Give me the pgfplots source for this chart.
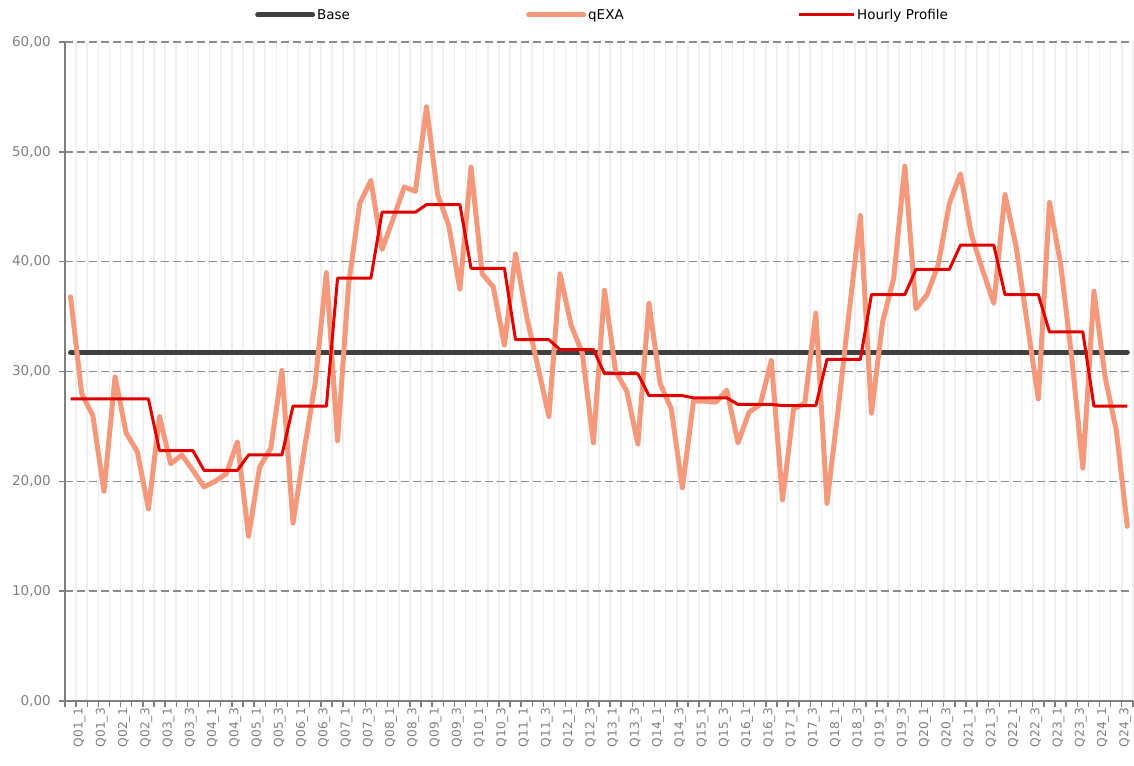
\documentclass[border=0pt]{standalone}
\usepackage{pgfplots}
\pgfplotsset{compat=1.18}
\usepackage{pgfplotstable}
\usepackage{fontspec}
\setmainfont{DejaVu Sans}
\definecolor{qexa}{HTML}{F4997B}
\definecolor{hourly}{HTML}{E00000}
\definecolor{base}{HTML}{404040}
\definecolor{gridc}{HTML}{8C8C8C}
\definecolor{vgrid}{HTML}{EFEFEF}
\definecolor{tickc}{HTML}{7F7F7F}
\pgfplotstableread{
x q h
0 36.8 27.5
1 28.0 27.5
2 26.0 27.5
3 19.1 27.5
4 29.5 27.5
5 24.4 27.5
6 22.7 27.5
7 17.5 27.5
8 25.9 22.8
9 21.6 22.8
10 22.4 22.8
11 21.0 22.8
12 19.5 21.0
13 20.0 21.0
14 20.7 21.0
15 23.6 21.0
16 15.0 22.4
17 21.3 22.4
18 23.0 22.4
19 30.1 22.4
20 16.2 26.85
21 22.8 26.85
22 29.0 26.85
23 39.0 26.85
24 23.7 38.5
25 38.0 38.5
26 45.3 38.5
27 47.4 38.5
28 41.1 44.5
29 43.9 44.5
30 46.8 44.5
31 46.4 44.5
32 54.1 45.2
33 46.1 45.2
34 43.3 45.2
35 37.5 45.2
36 48.6 39.4
37 38.9 39.4
38 37.7 39.4
39 32.4 39.4
40 40.7 32.9
41 35.0 32.9
42 30.5 32.9
43 25.9 32.9
44 38.9 32.0
45 34.2 32.0
46 31.7 32.0
47 23.5 32.0
48 37.4 29.8
49 30.0 29.8
50 28.2 29.8
51 23.4 29.8
52 36.2 27.8
53 28.9 27.8
54 26.6 27.8
55 19.4 27.8
56 27.3 27.6
57 27.3 27.6
58 27.2 27.6
59 28.3 27.6
60 23.5 27.0
61 26.3 27.0
62 27.0 27.0
63 31.0 27.0
64 18.3 26.9
65 26.6 26.9
66 27.1 26.9
67 35.3 26.9
68 18.0 31.1
69 26.5 31.1
70 35.5 31.1
71 44.2 31.1
72 26.2 37.0
73 34.5 37.0
74 38.5 37.0
75 48.7 37.0
76 35.7 39.3
77 37.0 39.3
78 39.7 39.3
79 45.3 39.3
80 48.0 41.5
81 42.4 41.5
82 39.2 41.5
83 36.2 41.5
84 46.1 37.0
85 41.4 37.0
86 34.4 37.0
87 27.5 37.0
88 45.4 33.6
89 39.8 33.6
90 31.3 33.6
91 21.2 33.6
92 37.3 26.85
93 29.5 26.85
94 24.7 26.85
95 15.9 26.85
}\datatable
\begin{document}
\begin{tikzpicture}
\path[use as bounding box] (-65pt,-64pt) rectangle (1069pt,701pt);
\begin{axis}[
  at={(0pt,0pt)}, anchor=south west,
  scale only axis, width=1068pt, height=659pt,
  xmin=-0.5, xmax=95.5, ymin=0, ymax=60,
  axis x line=bottom, axis y line=left,
  axis line style={-, draw=tickc, line width=1.6pt},
  xtick={0,2,...,94},
  xticklabels={Q01\_1,Q01\_3,Q02\_1,Q02\_3,Q03\_1,Q03\_3,Q04\_1,Q04\_3,Q05\_1,Q05\_3,Q06\_1,Q06\_3,Q07\_1,Q07\_3,Q08\_1,Q08\_3,Q09\_1,Q09\_3,Q10\_1,Q10\_3,Q11\_1,Q11\_3,Q12\_1,Q12\_3,Q13\_1,Q13\_3,Q14\_1,Q14\_3,Q15\_1,Q15\_3,Q16\_1,Q16\_3,Q17\_1,Q17\_3,Q18\_1,Q18\_3,Q19\_1,Q19\_3,Q20\_1,Q20\_3,Q21\_1,Q21\_3,Q22\_1,Q22\_3,Q23\_1,Q23\_3,Q24\_1,Q24\_3},
  minor xtick={-0.5,0.5,...,95.5},
  xminorgrids=true,
  minor grid style={draw=vgrid, line width=1.6pt},
  ytick={0,10,...,60},
  ymajorgrids=true,
  major grid style={draw=gridc, line width=1.4pt, dash pattern=on 8pt off 4pt},
  major x tick style={draw=none},
  minor x tick style={draw=tickc, line width=1.4pt},
  major y tick style={draw=tickc, line width=1.4pt},
  tick align=outside,
  major tick length=6pt, minor tick length=6pt,
  tick label style={font=\fontsize{13.5}{15}\selectfont, text=tickc},
  x tick label style={font=\fontsize{12.2}{14}\selectfont, rotate=90, anchor=east, inner sep=1pt, yshift=-9pt},
  y tick label style={inner sep=2pt, xshift=-6pt},
  /pgf/number format/assume math mode=true,
  yticklabel={\pgfmathprintnumber[fixed, fixed zerofill, precision=2, use comma]{\tick}},
  legend style={at={(0.1807,1)}, anchor=south west, xshift=-6pt, yshift=17pt, draw=none, fill=none,
    legend columns=3, font=\fontsize{13.5}{15}\selectfont,
    nodes={text width=207pt, align=left, inner sep=2pt, anchor=west},
    legend cell align=left},
  legend image code/.code={\draw[#1] (0pt,0pt) -- (55pt,0pt);},
]
\addplot[base, line width=5pt, line cap=round] table[x=x, y expr=31.75] {\datatable};
\addlegendentry{Base}
\addplot[qexa, line width=5pt, line cap=round, line join=round] table[x=x, y=q] {\datatable};
\addlegendentry{qEXA}
\addplot[hourly, line width=3pt, line join=round] table[x=x, y=h] {\datatable};
\addlegendentry{Hourly Profile}
\end{axis}
\end{tikzpicture}
\end{document}
